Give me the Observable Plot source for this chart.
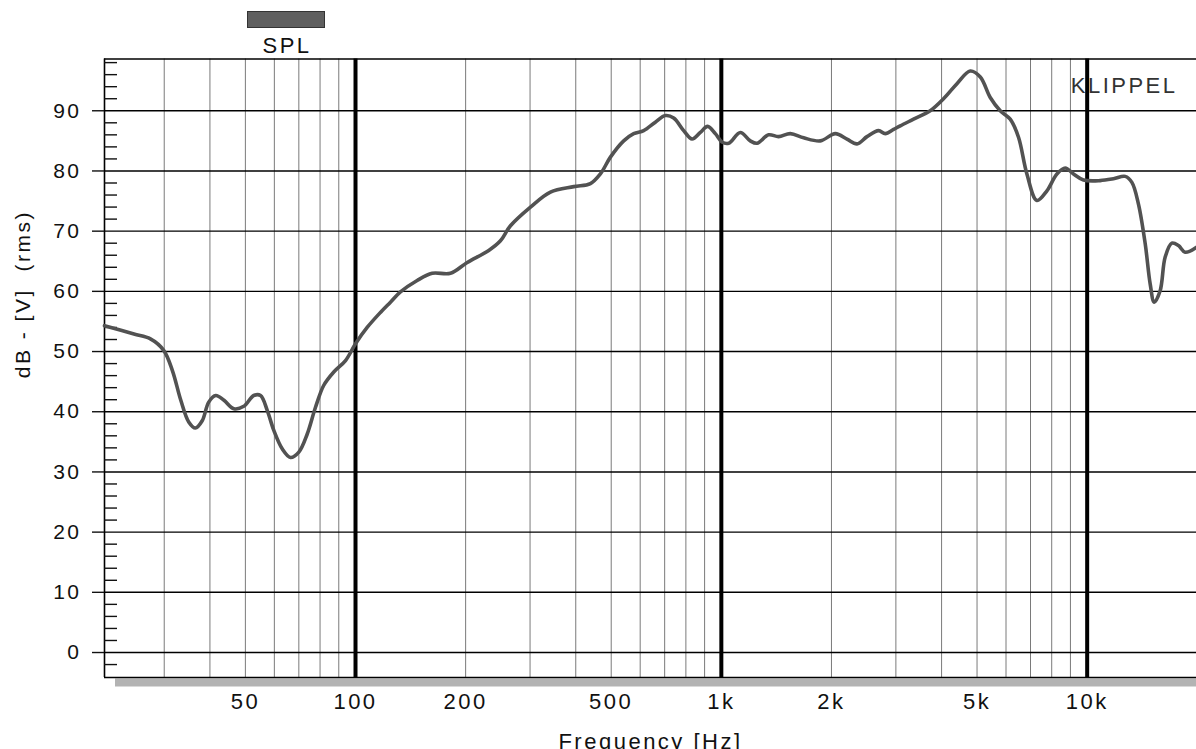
<!DOCTYPE html>
<html>
<head>
<meta charset="utf-8">
<script src="https://cdn.jsdelivr.net/npm/d3@7"></script>
<script src="https://cdn.jsdelivr.net/npm/@observablehq/plot@0.6"></script>
<style>
  html, body { margin: 0; padding: 0; background: white; }
  body { width: 1196px; height: 749px; overflow: hidden; font-family: "Liberation Sans", Arial, sans-serif; }
  #legend { position: relative; height: 56px; }
  #swatch { position: absolute; left: 247px; top: 11px; width: 76px; height: 15px; background: #5f5f5f; border: 1px solid #333; }
  #swatchLabel { position: absolute; left: 237px; width: 100px; top: 34.5px; text-align: center; font-size: 22px; line-height: 22px; letter-spacing: 2.5px; color: #111; }
</style>
</head>
<body>
<div id="legend"><div id="swatch"></div><div id="swatchLabel">SPL</div></div>
<div id="chart"></div>
<script>
// Frequency response (SPL)
const freqHz = [20.6, 24.8, 27.5, 29.9, 31.6, 33.3, 35.0, 36.5, 38.1, 39.7,
  41.5, 43.7, 46.5, 49.5, 52.7, 55.0, 57.4, 59.8, 63.1, 66.4,
  70.0, 73.8, 77.7, 81.9, 87.2, 93.9, 100, 107.6, 117, 124.6,
  132.7, 147.4, 162, 181.8, 202, 231.3, 249, 265.2, 300.8, 341.1,
  394.9, 438.6, 467, 497.5, 540.9, 576, 613.4, 660.1, 703.1, 740.8,
  788.9, 831.7, 876.3, 917.5, 962.9, 1004, 1047, 1127, 1200, 1252,
  1347, 1434, 1544, 1679, 1865, 2049, 2205, 2349, 2501, 2690,
  2806, 2957, 3084, 3353, 3724, 4050, 4406, 4790, 5103, 5433,
  5785, 6160, 6491, 6843, 7288, 7762, 8265, 8709, 9176, 9770,
  10850, 11800, 12700, 13250, 13810, 14410, 14870, 15250, 15830, 16340,
  17040, 17770, 18530, 19860];
const splDb = [54.3, 52.9, 52.1, 50.2, 46.8, 41.9, 38.3, 37.3, 38.5, 41.6,
  42.7, 41.9, 40.5, 40.9, 42.7, 42.7, 40.2, 36.9, 33.8, 32.4,
  33.3, 36.3, 40.7, 44.4, 46.6, 48.5, 51.3, 54.0, 56.5, 58.2,
  59.9, 61.8, 63.0, 63.0, 64.8, 66.8, 68.4, 70.9, 74.0, 76.5,
  77.4, 77.9, 79.5, 82.3, 85.0, 86.2, 86.7, 88.1, 89.2, 88.8,
  86.7, 85.3, 86.4, 87.4, 86.2, 84.8, 84.6, 86.4, 85.0, 84.6,
  86.0, 85.7, 86.2, 85.5, 85.0, 86.2, 85.3, 84.5, 85.7, 86.7,
  86.2, 86.9, 87.5, 88.6, 90.0, 92.0, 94.5, 96.6, 95.6, 92.2,
  90.0, 88.6, 85.6, 79.5, 75.1, 76.7, 79.5, 80.5, 79.5, 78.5,
  78.4, 78.7, 79.1, 78.1, 74.5, 67.9, 61.2, 58.2, 60.1, 65.7,
  68.0, 67.6, 66.5, 67.3];

// Axes
const xDomain = [20.6, 19900];
const yDomain = [-4.15, 98.6];
const xTickValues = [50, 100, 200, 500, 1000, 2000, 5000, 10000];
const xTickLabels = ["50", "100", "200", "500", "1k", "2k", "5k", "10k"];
const decadeLines = [100, 1000, 10000];
const minorFreqLines = [30, 40, 50, 60, 70, 80, 90, 200, 300, 400, 500, 600, 700, 800, 900,
  2000, 3000, 4000, 5000, 6000, 7000, 8000, 9000];
const yMajorTicks = [0, 10, 20, 30, 40, 50, 60, 70, 80, 90];
const yMinorTicks = [-2, 2, 4, 6, 8, 12, 14, 16, 18, 22, 24, 26, 28, 32, 34, 36, 38,
  42, 44, 46, 48, 52, 54, 56, 58, 62, 64, 66, 68, 72, 74, 76, 78, 82, 84, 86, 88, 92, 94, 96, 98];
const seriesName = "SPL";
const watermark = "KLIPPEL";
const yLabel = "dB - [V]\u00a0\u00a0(rms)";
const xLabel = "Frequency [Hz]";

const data = freqHz.map((f, i) => ({f, db: splDb[i]}));

const chart = Plot.plot({
  width: 1196,
  height: 693,
  marginTop: 2.5,
  marginBottom: 72,
  marginLeft: 104,
  marginRight: 0,
  style: {fontFamily: "'Liberation Sans', Arial, sans-serif", fontSize: "21px", letterSpacing: "2.5px", color: "#111", background: "white", overflow: "visible"},
  x: {type: "log", domain: xDomain},
  y: {domain: yDomain},
  marks: [
    Plot.ruleX(minorFreqLines, {stroke: "#7a7a7a", strokeWidth: 1}),
    Plot.gridY(yMajorTicks, {stroke: "#000", strokeOpacity: 1, strokeWidth: 1.4}),
    Plot.text([watermark], {text: d => d, frameAnchor: "top-right", textAnchor: "end", lineAnchor: "top", dx: -19, dy: 18.5, fill: "#333", fontSize: 22}),
    Plot.ruleX(decadeLines, {stroke: "#000", strokeWidth: 4}),
    Plot.ruleY([yDomain[0]], {stroke: "#b3b3b3", strokeWidth: 8, dx: 11, dy: 5}),
    Plot.ruleY([yDomain[0]], {stroke: "#000", strokeWidth: 1.6}),
    Plot.ruleY([yDomain[1]], {stroke: "#000", strokeWidth: 1.6}),
    Plot.ruleX([xDomain[0]], {stroke: "#000", strokeWidth: 1.6}),
    Plot.axisY(yMajorTicks, {tickSize: 12, tickPadding: 11, fontSize: 21, label: null, strokeWidth: 1.4}),
    Plot.axisY(yMinorTicks, {tickSize: 13, dx: 13, tickFormat: () => "", label: null, strokeWidth: 1.4}),
    Plot.axisX(xTickValues, {tickSize: 0, tickPadding: 16, fontSize: 22, label: null,
      tickFormat: d => xTickLabels[xTickValues.indexOf(d)]}),
    Plot.line(data, {x: "f", y: "db", stroke: "#525252", strokeWidth: 3.6, curve: "catmull-rom", title: () => seriesName}),
    Plot.text([yLabel], {text: d => d, frameAnchor: "left", rotate: -90, dx: -81, dy: 10, fontSize: 21, lineAnchor: "middle"}),
    Plot.text([xLabel], {text: d => d, frameAnchor: "bottom", lineAnchor: "top", dy: 56, fontSize: 22})
  ]
});
document.getElementById("chart").appendChild(chart);
</script>
</body>
</html>
